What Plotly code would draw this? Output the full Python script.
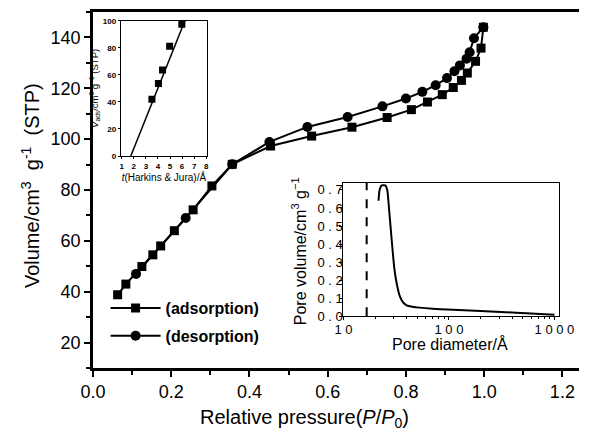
import plotly.graph_objects as go

# ---- main isotherm data (relative pressure P/P0, volume cm3/g STP) ----
ads_p = [0.063, 0.084, 0.125, 0.153, 0.173, 0.208, 0.256, 0.304, 0.356, 0.454,
         0.559, 0.662, 0.752, 0.814, 0.855, 0.893, 0.921, 0.942, 0.957, 0.978,
         0.992, 0.998]
ads_v = [38.8, 43.0, 49.9, 54.5, 58.0, 64.0, 72.2, 81.6, 90.1, 97.3,
         101.2, 104.7, 108.5, 111.6, 114.6, 117.5, 120.3, 123.1, 126.0, 130.6,
         135.8, 144.0]

des_p = [0.998, 0.974, 0.963, 0.955, 0.938, 0.924, 0.905, 0.876, 0.842, 0.800,
         0.740, 0.651, 0.548, 0.451, 0.356, 0.237, 0.110]
des_v = [144.0, 139.7, 134.2, 131.6, 129.0, 126.7, 124.0, 121.2, 118.6, 116.0,
         112.9, 108.7, 104.8, 98.9, 90.1, 69.0, 47.0]

# ---- t-plot inset (Harkins & Jura) ----
t_vals = [3.5, 4.04, 4.38, 4.97, 5.98]
t_vads = [42.0, 53.6, 63.5, 81.2, 97.4]
t_fit_x = [1.75, 6.35]
t_fit_y = [0.0, 102.6]

# ---- pore size distribution inset ----
pore_d = [21.5, 22.0, 23.0, 25.0, 26.0, 27.0, 28.3, 30.3, 32.0, 34.4, 37.0,
          39.7, 45.0, 52.7, 70.0, 96.4, 200.0, 312.0, 600.0, 1000.0]
pore_v = [0.64, 0.70, 0.725, 0.725, 0.70, 0.60, 0.46, 0.27, 0.18, 0.107, 0.075,
          0.061, 0.053, 0.048, 0.042, 0.037, 0.029, 0.024, 0.015, 0.008]
cutoff_d = 16.6

psd_yticks = [0, 0.1, 0.2, 0.3, 0.4, 0.5, 0.6, 0.7]
psd_yticktext = ["0 . 0", "0 . 1", "0 . 2", "0 . 3", "0 . 4", "0 . 5", "0 . 6", "0 . 7"]
psd_xticks = [10, 100, 1000]
psd_xticktext = ["1 0", "1 0 0", "1 0 0 0"]
psd_minor = [20, 30, 40, 50, 60, 70, 80, 90, 200, 300, 400, 500, 600, 700, 800, 900]

FONT = "Liberation Sans, Arial, sans-serif"
W, H = 595, 434
L, R, T, B = 93, 0, 12, 66
PW, PH = W - L - R, H - T - B

def px_x(p):
    return (p - L) / PW

def px_y(p):
    return (H - B - p) / PH

fig = go.Figure()

fig.add_trace(go.Scatter(
    x=ads_p, y=ads_v, mode="lines+markers", name="(adsorption)",
    line=dict(color="black", width=2),
    marker=dict(symbol="square", size=9, color="black"),
    legendgroup="a"))
fig.add_trace(go.Scatter(
    x=des_p, y=des_v, mode="lines+markers", name="(desorption)",
    line=dict(color="black", width=2),
    marker=dict(symbol="circle", size=10, color="black"),
    legendgroup="d"))

# t-plot inset
fig.add_trace(go.Scatter(
    x=t_fit_x, y=t_fit_y, mode="lines", xaxis="x2", yaxis="y2",
    line=dict(color="black", width=1.5), showlegend=False))
fig.add_trace(go.Scatter(
    x=t_vals, y=t_vads, mode="markers", xaxis="x2", yaxis="y2",
    marker=dict(symbol="square", size=7, color="black"), showlegend=False))

# PSD inset
fig.add_trace(go.Scatter(
    x=[cutoff_d, cutoff_d], y=[0, 0.74], mode="lines", xaxis="x3", yaxis="y3",
    line=dict(color="black", width=2, dash="dash"), showlegend=False))
fig.add_trace(go.Scatter(
    x=pore_d, y=pore_v, mode="lines", xaxis="x3", yaxis="y3",
    line=dict(color="black", width=2, shape="spline", smoothing=0.6),
    showlegend=False))

axis_common = dict(showgrid=False, zeroline=False, color="black")

fig.update_layout(
    width=W, height=H,
    margin=dict(l=L, r=R, t=T, b=B),
    paper_bgcolor="white", plot_bgcolor="white",
    font=dict(family=FONT, color="black"),
    xaxis=dict(**axis_common, domain=[0, 1], range=[0, 1.2425],
               tick0=0, dtick=0.2, tickformat=".1f",
               ticks="outside", ticklen=6, tickwidth=2,
               minor=dict(dtick=0.1, ticks="outside", ticklen=4, tickwidth=1.5),
               showline=True, linewidth=2.5, linecolor="black", mirror=True,
               tickfont=dict(size=18)),
    yaxis=dict(**axis_common, domain=[0, 1], range=[10, 150],
               tick0=0, dtick=20,
               ticks="outside", ticklen=6, tickwidth=2,
               minor=dict(dtick=10, ticks="outside", ticklen=4, tickwidth=1.5),
               showline=True, linewidth=2.5, linecolor="black", mirror=False,
               tickfont=dict(size=18)),
    xaxis2=dict(**axis_common, anchor="y2",
                domain=[px_x(121.7), px_x(210.7)], range=[0.92, 8.06],
                tick0=1, dtick=1, ticks="outside", ticklen=2,
                showline=True, linewidth=1, linecolor="black", mirror=True,
                tickfont=dict(size=8, weight="bold"),
                title=dict(text="<i>t</i>(Harkins &amp; Jura)/Å",
                           font=dict(size=10), standoff=2)),
    yaxis2=dict(**axis_common, anchor="x2",
                domain=[px_y(156), px_y(20.7)], range=[0, 100],
                tick0=0, dtick=20, ticks="outside", ticklen=2,
                showline=True, linewidth=1, linecolor="black", mirror=True,
                tickfont=dict(size=8, weight="bold"),
                title=dict(text="<i>V</i><sub>ads</sub>/cm<sup>3</sup> g<sup>−1</sup> (STP)",
                           font=dict(size=9.5), standoff=2)),
    xaxis3=dict(**axis_common, anchor="y3", type="log",
                domain=[px_x(351.7), px_x(574)], range=[1, 3.04],
                tickvals=psd_xticks, ticktext=psd_xticktext,
                ticks="outside", ticklen=3,
                minor=dict(tickvals=psd_minor, ticks="outside", ticklen=2),
                showline=True, linewidth=1.2, linecolor="black", mirror=True,
                tickfont=dict(size=13), ticklabelstandoff=-2),
    yaxis3=dict(**axis_common, anchor="x3",
                domain=[px_y(316.3), px_y(182.7)], range=[0, 0.74],
                tickvals=psd_yticks, ticktext=psd_yticktext,
                ticks="outside", ticklen=3,
                showline=True, linewidth=1.2, linecolor="black", mirror=True,
                tickfont=dict(size=13), ticklabelstandoff=-6),
    legend=dict(x=px_x(106), y=px_y(291), xanchor="left", yanchor="top",
                bgcolor="rgba(0,0,0,0)", borderwidth=0,
                font=dict(size=16, weight="bold"),
                itemwidth=50, tracegroupgap=4),
    annotations=[
        dict(text="Volume/cm<sup>3</sup>&nbsp;&nbsp;g<sup>-1</sup>&nbsp;&nbsp;(STP)",
             xref="paper", yref="paper", x=px_x(28), y=px_y(186),
             xanchor="center", yanchor="middle", textangle=-90,
             showarrow=False, font=dict(size=20)),
        dict(text="Relative pressure(<i>P</i>/<i>P</i><sub>0</sub>)",
             xref="paper", yref="paper", x=px_x(311), y=px_y(418),
             xanchor="center", yanchor="middle",
             showarrow=False, font=dict(size=20)),
        dict(text="Pore diameter/Å",
             xref="paper", yref="paper", x=px_x(462), y=px_y(344),
             xanchor="center", yanchor="middle",
             showarrow=False, font=dict(size=16)),
        dict(text="Pore volume/cm<sup>3</sup> g<sup>−1</sup>",
             xref="paper", yref="paper", x=px_x(306), y=px_y(251),
             xanchor="center", yanchor="middle", textangle=-90,
             showarrow=False, font=dict(size=16)),
    ],
)

fig.write_html("out.html",
               config={"displayModeBar": False},
               post_script="document.body.style.margin='0px';document.body.style.overflow='hidden';")
